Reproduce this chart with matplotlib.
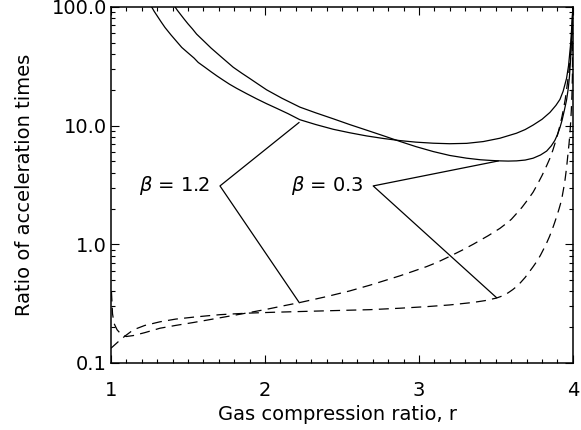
import matplotlib
matplotlib.use('Agg')
import matplotlib.pyplot as plt
from matplotlib.ticker import MultipleLocator, NullFormatter, LogLocator

# solid curves (beta = 1.2 and beta = 0.3)
r_s12 = [1.264, 1.28, 1.30, 1.325, 1.351, 1.39, 1.427, 1.46, 1.50, 1.54, 1.567, 1.61, 1.65, 1.69,
         1.73, 1.77, 1.816, 1.88, 1.946, 2.01, 2.08, 2.15, 2.227, 2.33, 2.444, 2.55, 2.660, 2.77,
         2.877, 2.98, 3.093, 3.20, 3.310, 3.418, 3.526, 3.634, 3.69, 3.742, 3.80, 3.851, 3.89,
         3.916, 3.937, 3.959, 3.972, 3.985, 3.995, 4.0]
t_s12 = [100, 92, 84, 75, 67, 58, 51, 45.5, 41, 37, 34, 31, 28.4, 26.1,
         24.1, 22.3, 20.6, 18.6, 16.8, 15.3, 13.9, 12.6, 11.2, 10.2, 9.3, 8.7, 8.18, 7.78,
         7.47, 7.25, 7.10, 7.03, 7.08, 7.33, 7.82, 8.62, 9.25, 10.1, 11.3, 12.9, 14.8,
         16.6, 19.5, 25, 32, 48, 75, 100]

r_s03 = [1.416, 1.43, 1.45, 1.475, 1.50, 1.53, 1.556, 1.60, 1.65, 1.72, 1.794, 1.85, 1.90, 1.95,
         2.011, 2.11, 2.227, 2.33, 2.444, 2.55, 2.660, 2.77, 2.877, 2.98, 3.093, 3.20, 3.310,
         3.40, 3.47, 3.526, 3.58, 3.634, 3.69, 3.742, 3.79, 3.83, 3.86, 3.883, 3.90, 3.916, 3.93,
         3.945, 3.959, 3.97, 3.978, 3.985, 3.991, 3.996, 4.0]
t_s03 = [100, 94, 87, 79, 72, 65, 59, 52, 45, 37.5, 31, 27.6, 25, 22.6,
         20, 17, 14.3, 12.8, 11.4, 10.2, 9.15, 8.2, 7.35, 6.65, 6.04, 5.6, 5.31,
         5.15, 5.08, 5.04, 5.02, 5.04, 5.12, 5.31, 5.65, 6.1, 6.75, 7.5, 8.4, 9.6, 11.1,
         13.5, 16.4, 20.5, 26, 36, 50, 72, 100]

# dashed curves
r_d12 = [1.003, 1.01, 1.02, 1.04, 1.07, 1.10, 1.145, 1.22, 1.318, 1.42, 1.535, 1.62, 1.708, 1.80,
         1.90, 2.011, 2.11, 2.223, 2.31, 2.40, 2.55, 2.682, 2.78, 2.877, 2.96, 3.05, 3.12, 3.2,
         3.28, 3.353, 3.45, 3.526, 3.56, 3.60, 3.64, 3.67, 3.71, 3.742, 3.77, 3.80, 3.83, 3.851,
         3.87, 3.89, 3.905, 3.916, 3.93, 3.94, 3.95, 3.959, 3.967, 3.975, 3.983, 3.99, 3.996, 4.0]
t_d12 = [0.40, 0.26, 0.215, 0.19, 0.172, 0.167, 0.170, 0.180, 0.196, 0.207, 0.219, 0.229, 0.240, 0.252,
         0.266, 0.283, 0.301, 0.322, 0.341, 0.362, 0.404, 0.452, 0.495, 0.542, 0.59, 0.648, 0.705, 0.79,
         0.89, 1.0, 1.18, 1.36, 1.47, 1.62, 1.85, 2.05, 2.4, 2.75, 3.2, 3.8, 4.6, 5.3,
         6.2, 7.5, 8.8, 10, 12, 14, 16.5, 20, 24, 29, 37, 50, 70, 100]

r_d03 = [1.0, 1.05, 1.09, 1.145, 1.22, 1.318, 1.42, 1.535, 1.62, 1.708, 1.80, 1.90, 2.05, 2.227,
         2.45, 2.682, 2.877, 3.05, 3.2, 3.35, 3.43, 3.504, 3.55, 3.58, 3.61, 3.634, 3.66, 3.69,
         3.715, 3.742, 3.77, 3.79, 3.81, 3.829, 3.848, 3.865, 3.88, 3.894, 3.91, 3.92, 3.93, 3.94,
         3.948, 3.955, 3.962, 3.969, 3.975, 3.981, 3.986, 3.99, 3.994, 3.997, 4.0]
t_d03 = [0.133, 0.152, 0.168, 0.190, 0.207, 0.222, 0.234, 0.243, 0.249, 0.255, 0.259, 0.263, 0.267, 0.271,
         0.276, 0.281, 0.289, 0.298, 0.308, 0.323, 0.335, 0.352, 0.37, 0.39, 0.415, 0.44, 0.475, 0.525,
         0.58, 0.647, 0.73, 0.81, 0.91, 1.02, 1.16, 1.32, 1.5, 1.7, 1.98, 2.2, 2.5, 2.95,
         3.4, 4.0, 4.8, 5.9, 7.0, 8.6, 10.8, 13.5, 18, 26, 100]

# label pointers: (upper end, vertex, lower end)
lab12 = r'$\beta$ = 1.2'
ptr12_r = [2.221, 1.708, 2.223]
ptr12_t = [10.6, 3.10, 0.322]
lab03 = r'$\beta$ = 0.3'
ptr03_r = [3.515, 2.703, 3.504]
ptr03_t = [5.03, 3.10, 0.355]

yticks = [0.1, 1, 10, 100]
ylabels = ['0.1', '1.0', '10.0', '100.0']
xticks = [1, 2, 3, 4]
xlabels = ['1', '2', '3', '4']

plt.rcParams['font.family'] = 'DejaVu Sans'
plt.rcParams['font.size'] = 14
plt.rcParams['mathtext.fontset'] = 'dejavusans'

fig = plt.figure(figsize=(5.81, 4.30), dpi=100)
ax = fig.add_axes([0.191, 0.156, 0.795, 0.828])

ax.plot(r_s12, t_s12, color='black', lw=0.9)
ax.plot(r_s03, t_s03, color='black', lw=0.9)
ax.plot(r_d12, t_d12, color='black', lw=0.9, ls=(0, (8, 5)))
ax.plot(r_d03, t_d03, color='black', lw=0.9, ls=(0, (8, 5)))

ax.plot(ptr12_r, ptr12_t, color='black', lw=0.9)
ax.plot(ptr03_r, ptr03_t, color='black', lw=0.9)
ax.annotate(lab12, xy=(ptr12_r[1], ptr12_t[1]), xytext=(-7, 0), textcoords='offset points',
            ha='right', va='center')
ax.annotate(lab03, xy=(ptr03_r[1], ptr03_t[1]), xytext=(-7, 0), textcoords='offset points',
            ha='right', va='center')

ax.set_yscale('log')
ax.set_xlim(1, 4)
ax.set_ylim(0.1, 100)
ax.set_yticks(yticks, ylabels)
ax.set_xticks(xticks, xlabels)
ax.xaxis.set_minor_locator(MultipleLocator(0.1))
ax.yaxis.set_minor_locator(LogLocator(subs=[2, 3, 4, 5, 6, 7, 8, 9]))
ax.yaxis.set_minor_formatter(NullFormatter())

ax.tick_params(which='both', direction='in', top=True, right=True, width=0.8)
ax.tick_params(which='major', length=5.5)
ax.tick_params(which='minor', length=2.7)
ax.tick_params(axis='x', pad=13)
ax.tick_params(axis='y', pad=3)
for s in ax.spines.values():
    s.set_linewidth(1.1)

ax.set_xlabel('Gas compression ratio, r')
ax.xaxis.set_label_coords(0.49, -0.118)
fig.text(25 / 581, 0.57, 'Ratio of acceleration times', rotation=90, ha='center', va='center')

fig.savefig('out.png', dpi=100)
